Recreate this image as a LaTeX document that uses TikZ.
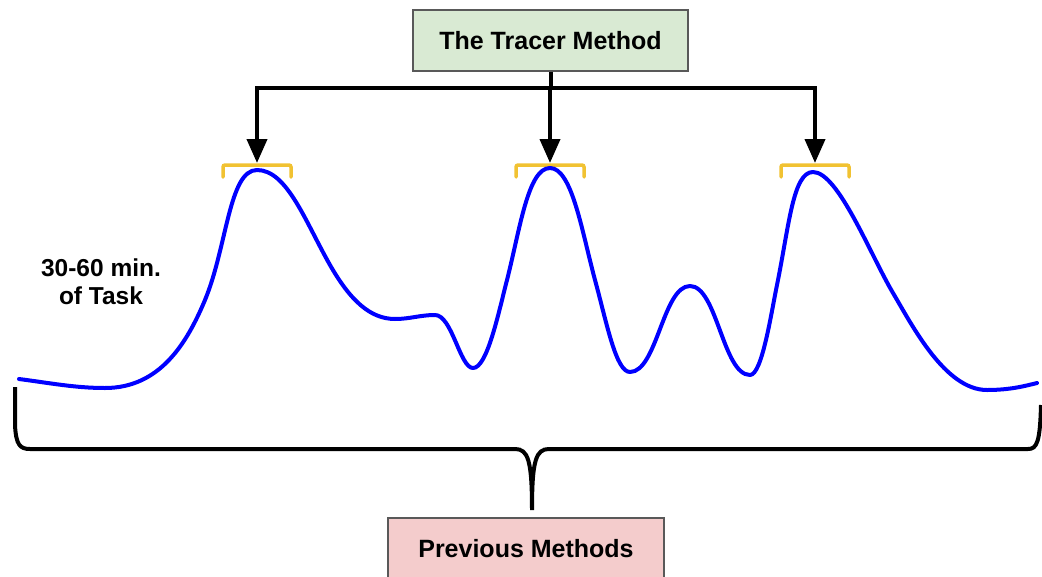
\documentclass[tikz,border=0pt]{standalone}
\usepackage{fontspec}
\setmainfont{Liberation Sans}
\usetikzlibrary{arrows.meta}
\definecolor{boxgreen}{HTML}{D9EAD3}
\definecolor{boxred}{HTML}{F4CCCC}
\definecolor{boxline}{HTML}{595959}
\definecolor{markgold}{HTML}{F1C232}
\begin{document}
\begin{tikzpicture}[x=1pt,y=-1pt,
    methodbox/.style={draw=boxline,line width=1.2pt,minimum width=276pt,minimum height=62pt,
        font=\fontsize{25}{28}\selectfont\bfseries},
    link/.style={line width=4pt,black},
    signal/.style={line width=4pt,blue,line join=round,line cap=round},
    peakmark/.style={line width=3.5pt,markgold,line cap=round,rounded corners=2pt}]
    \useasboundingbox (0,0) rectangle (1042,576);
    \node[methodbox,fill=boxgreen,minimum width=275pt,minimum height=61pt] (tracer) at (550.5,40.5) {The Tracer Method};
    \node[methodbox,fill=boxred] (previous) at (526,549) {Previous Methods};
    \node[font=\fontsize{24.5}{28}\selectfont\bfseries,align=center] (task) at (101,282) {30-60 min.\\of Task};
    % peaks picked out by the tracer
    \foreach \n/\x in {1/257,2/550,3/815} {
        \coordinate (m\n) at (\x,163);
        \draw[peakmark] (\x-34,177) -- (\x-34,165) -- (\x+34,165) -- (\x+34,177);
    }
    \draw[link] (tracer.south) -- (tracer.south |- 0,88) coordinate (hub);
    \draw[link,line cap=rect] (m1 |- hub) -- (m3 |- hub);
    \foreach \n in {1,2,3}
        \draw[link,-{Triangle[width=20pt,length=24pt]}] (m\n |- hub) -- (m\n);
    % signal
    \draw[signal] (19,379) .. controls (50,383) and (75,388) .. (105,388)
        .. controls (160,388) and (187,343) .. (205,300)
        .. controls (227,247) and (229,170) .. (257,170)
        .. controls (287,170) and (305,221) .. (330,265)
        .. controls (350,300) and (370,319) .. (395,319)
        .. controls (410,319) and (420,315) .. (435,315)
        .. controls (452,315) and (460,368) .. (473,368)
        .. controls (487,368) and (498,315) .. (507,280)
        .. controls (520,229) and (528,168) .. (550,168)
        .. controls (572,168) and (582,232) .. (595,280)
        .. controls (607,324) and (616,372) .. (630,372)
        .. controls (657,372) and (663,286) .. (690,286)
        .. controls (717,286) and (723,375) .. (750,375)
        .. controls (762,375) and (771,314) .. (777,285)
        .. controls (789,226) and (793,172) .. (813,172)
        .. controls (838,172) and (870,254) .. (893,293)
        .. controls (912,325) and (945,390) .. (987,390)
        .. controls (1010,390) and (1025,386) .. (1037,383);
    % brace over the whole task
    \coordinate (cusp) at (532,510);
    \draw[link] (15,387) -- (15,425) .. controls (16,445) and (20,449) .. (30,449)
        -- (515,449) .. controls (528,449) and (532,460) .. (cusp)
        .. controls (532,460) and (536,449) .. (549,449)
        -- (1028,449) .. controls (1037,449) and (1040,442) .. (1041,405);
\end{tikzpicture}
\end{document}
